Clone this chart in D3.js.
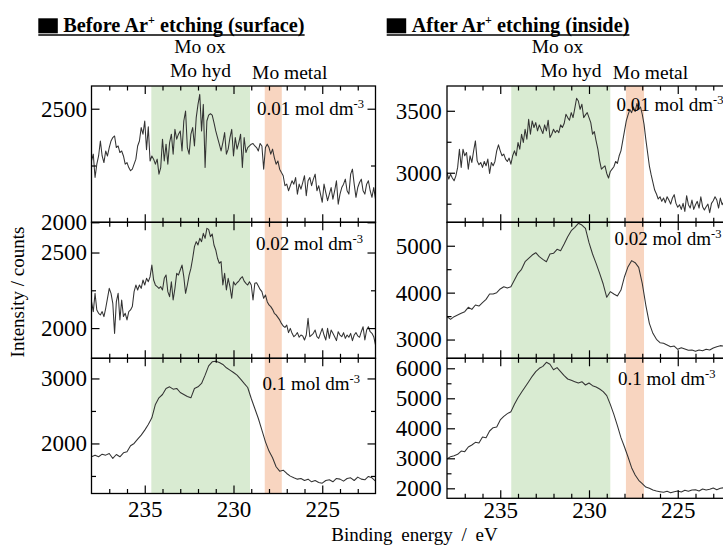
<!DOCTYPE html>
<html>
<head>
<meta charset="utf-8">
<script src="https://cdn.jsdelivr.net/npm/d3@7"></script>
<style>
  body { margin: 0; background: #fff; }
  svg { display: block; }
</style>
</head>
<body>
<svg id="chart" width="723" height="547"></svg>
<script>
// Mo 3d XPS spectra: binding energy grid (eV), high to low
const energyStart = 238, energyEnd = 222;
const fineStep = 0.1, coarseStep = 0.2;

const concentrations = ["0.01", "0.02", "0.1"];
const energyTicksMajor = [235, 230, 225];
const energyTicksMinor = [237, 236, 234, 233, 232, 231, 229, 228, 227, 226, 224, 223];

// Before Ar+ etching (surface), counts
const surface001 = [
  2270,2300,2197,2256,2292,2358,2292,2263,2314,2292,
  2329,2358,2373,2380,2329,2336,2307,2314,2292,2256,
  2263,2241,2227,2234,2256,2278,2336,2358,2417,2388,
  2446,2320,2420,2270,2292,2278,2256,2278,2212,2241,
  2366,2270,2344,2256,2351,2388,2300,2409,2366,2388,
  2402,2314,2446,2490,2329,2300,2388,2417,2336,2461,
  2519,2563,2402,2519,2241,2446,2472,2478,2472,2439,
  2402,2373,2344,2314,2351,2395,2300,2322,2373,2409,
  2292,2373,2322,2351,2388,2241,2373,2307,2329,2336,
  2344,2347,2336,2329,2314,2347,2336,2234,2329,2344,
  2329,2300,2322,2285,2256,2270,2234,2219,2205,2161,
  2168,2139,2161,2183,2168,2197,2124,2168,2146,2175,
  2205,2117,2183,2197,2161,2190,2212,2139,2161,2124,
  2088,2168,2131,2095,2124,2153,2102,2139,2183,2080,
  2124,2153,2168,2190,2139,2124,2212,2234,2168,2110,
  2153,2175,2190,2139,2124,2168,2183,2139,2110,2153,
  2102
];
const surface002 = [
  2175,2109,2230,2120,2098,2087,2109,2076,2131,2197,
  2263,2230,2164,1965,2175,2230,2054,2186,2076,2098,
  2054,2109,2120,2142,2241,2285,2252,2285,2263,2318,
  2285,2329,2307,2340,2417,2318,2285,2274,2263,2274,
  2252,2329,2351,2241,2208,2307,2186,2263,2362,2351,
  2384,2417,2340,2230,2285,2351,2395,2462,2539,2572,
  2550,2594,2572,2627,2594,2660,2653,2605,2623,2550,
  2517,2462,2429,2440,2285,2362,2252,2329,2274,2197,
  2307,2285,2300,2311,2329,2340,2311,2296,2285,2307,
  2285,2186,2296,2300,2278,2256,2241,2197,2219,2175,
  2153,2142,2124,2098,2087,2071,2054,2031,2014,2005,
  2020,1970,1998,1965,1943,1954,1970,1939,1954,1948,
  1921,1954,2065,1943,1954,1965,1987,1943,1932,1965,
  1998,1954,1921,1998,1932,1987,1965,1943,1917,1976,
  1954,1943,1970,1932,1954,1939,1965,1917,1954,1970,
  1948,1939,1976,2009,1921,1987,2009,1976,1965,1943,
  1888
];
const surface01 = [
  1795,1820,1795,1835,1820,1846,1769,1830,1795,1856,
  1871,1964,2000,2066,2128,2205,2292,2394,2600,2702,
  2753,2846,2871,2835,2846,2784,2753,2723,2702,2846,
  2871,2923,3051,3194,3256,3266,3246,3215,3164,3128,
  3092,3051,2989,2923,2861,2692,2538,2384,2205,2025,
  1882,1779,1641,1574,1589,1538,1497,1471,1451,1461,
  1430,1451,1410,1430,1400,1389,1430,1441,1410,1461,
  1451,1420,1461,1471,1430,1482,1451,1441,1492,1471,
  1420
];

// After Ar+ etching (inside), counts
const inside001 = [
  3002,2949,2989,2957,2935,2975,3043,3190,3043,3190,
  3137,3163,3029,3137,3083,3177,3257,3096,3064,3083,
  3043,3091,3056,3110,2994,3083,3056,3091,3177,3225,
  3177,3137,3150,3110,3091,3118,3069,3137,3177,3137,
  3244,3190,3311,3244,3351,3271,3432,3311,3418,3365,
  3405,3338,3386,3351,3316,3386,3338,3424,3284,3311,
  3351,3324,3343,3324,3386,3365,3397,3472,3445,3424,
  3485,3445,3520,3601,3579,3512,3553,3445,3467,3485,
  3445,3405,3311,3332,3257,3190,3096,3029,3043,3056,
  2994,2957,3010,3029,3048,3091,3075,3137,3177,3257,
  3338,3418,3467,3510,3485,3531,3494,3558,3510,3531,
  3472,3392,3271,3163,3056,2984,2922,2860,2828,2788,
  2806,2769,2796,2758,2806,2780,2747,2796,2823,2753,
  2721,2742,2704,2753,2688,2815,2742,2715,2780,2704,
  2742,2769,2715,2806,2726,2699,2726,2747,2678,2753,
  2774,2806,2780,2715,2796,2742,2769,2734,2761,2726,
  2753
];
const inside002 = [
  3488,3431,3488,3523,3559,3594,3687,3644,3736,3715,
  3786,3857,3971,3971,3999,4078,4127,4099,4127,4269,
  4411,4497,4660,4731,4802,4852,4767,4710,4660,4824,
  4838,4923,4895,5037,5193,5321,5392,5478,5442,5371,
  5065,4824,4625,4411,4184,3900,4021,3971,3928,4056,
  4340,4554,4682,4639,4539,4198,3736,3345,3132,3004,
  2933,2919,2884,2848,2862,2791,2827,2798,2770,2777,
  2748,2777,2763,2791,2777,2820,2848,2870,2862,2905,
  2884
];
const inside01 = [
  2977,3054,3088,3132,3243,3221,3377,3443,3532,3510,
  3710,3688,3910,4021,4043,4277,4399,4488,4554,4799,
  5021,5199,5377,5554,5732,5888,5999,6065,6199,6132,
  5954,6021,5888,5754,5643,5599,5554,5510,5554,5443,
  5510,5421,5377,5310,5221,5088,4799,4466,4088,3688,
  3377,3043,2688,2443,2266,2155,2043,1999,1943,1910,
  1888,1866,1899,1855,1888,1910,1877,1932,1899,1943,
  1954,1910,1977,1943,1966,2010,1954,1999,2021,1977,
  1999
];

// Intensity tick labels (major) and unlabelled minor ticks per panel
const surfaceTicks = [[2000, 2500], [2000, 2500], [2000, 3000]];
const surfaceMinor = [[2250], [2250], [1500, 2500]];
const insideTicks = [[3000, 3500], [3000, 4000, 5000], [2000, 3000, 4000, 5000, 6000]];
const insideMinor = [[2750, 3250], [3500, 4500], [2500, 3500, 4500, 5500]];

// Shaded assignment windows (eV)
const surfaceOxide = [234.63, 229.07], surfaceMetal = [228.24, 227.28];
const insideOxide = [234.38, 228.8], insideMetal = [227.92, 226.9];

const energyFine = d3.range(161).map(i => +(energyStart - i * fineStep).toFixed(2));
const energyCoarse = d3.range(81).map(i => +(energyStart - i * coarseStep).toFixed(2));

const FONT = "'Liberation Serif', 'Times New Roman', serif";
const svg = d3.select("#chart");

const plotWidth = 284;
const columns = [
  {
    x0: 91.5, bottom: 493.5, labelPad: 4.5, xLabelPad: 6.9,
    titleSq: 38.3, titleX: 63.3, titleMain: "Before Ar", titleTail: " etching (surface)",
    oxide: surfaceOxide, metal: surfaceMetal,
    series: [surface001, surface002, surface01],
    energy: [energyFine, energyFine, energyCoarse],
    domains: [[2000, 2600], [1800, 2700], [1230, 3310]],
    ticks: surfaceTicks, minor: surfaceMinor,
    labels: [[257, 115], [256, 250], [262.5, 390]],
    oxLabel: [200, 200.5], metalLabel: 289.7
  },
  {
    x0: 447, bottom: 498.3, labelPad: 5.3, xLabelPad: 3.7,
    titleSq: 386.7, titleX: 411.7, titleMain: "After Ar", titleTail: " etching (inside)",
    oxide: insideOxide, metal: insideMetal,
    series: [inside001, inside002, inside01],
    energy: [energyFine, energyCoarse, energyCoarse],
    domains: [[2600, 3700], [2600, 5500], [1667, 6333]],
    ticks: insideTicks, minor: insideMinor,
    labels: [[616.5, 111], [614.5, 245], [618, 385]],
    oxLabel: [557.5, 571], metalLabel: 650.5
  }
];
const rowEdges = [86, 222.3, 358.3];

const defs = svg.append("defs");

function styleAxis(sel, size) {
  sel.attr("font-family", FONT).attr("font-size", size);
  sel.select(".domain").remove();
  sel.selectAll(".tick line").attr("stroke", "#000").attr("stroke-width", 1.2);
  sel.selectAll(".tick text").attr("fill", "#000");
}

columns.forEach((col, ci) => {
  const x = d3.scaleLinear().domain([energyStart, energyEnd]).range([col.x0, col.x0 + plotWidth]);
  const tops = rowEdges;
  const bottoms = [rowEdges[1], rowEdges[2], col.bottom];

  // shaded windows spanning the full stack
  const bandG = svg.append("g");
  bandG.append("rect")
    .attr("x", x(col.oxide[0])).attr("width", x(col.oxide[1]) - x(col.oxide[0]))
    .attr("y", tops[0]).attr("height", col.bottom - tops[0])
    .attr("fill", "#d9ebd2");
  bandG.append("rect")
    .attr("x", x(col.metal[0])).attr("width", x(col.metal[1]) - x(col.metal[0]))
    .attr("y", tops[0]).attr("height", col.bottom - tops[0])
    .attr("fill", "#f8d5c0");

  col.series.forEach((values, ri) => {
    const top = tops[ri], bottom = bottoms[ri];
    const y = d3.scaleLinear().domain(col.domains[ri]).range([bottom, top]);
    const energy = col.energy[ri];
    const id = `clip-${ci}-${ri}`;
    defs.append("clipPath").attr("id", id).append("rect")
      .attr("x", col.x0).attr("y", top).attr("width", plotWidth).attr("height", bottom - top);

    const line = d3.line().x((d, i) => x(energy[i])).y(d => y(d));
    svg.append("path").datum(values)
      .attr("clip-path", `url(#${id})`)
      .attr("d", line)
      .attr("fill", "none").attr("stroke", "#333").attr("stroke-width", 1.05)
      .attr("stroke-linejoin", "round");

    // intensity axes (ticks inward)
    svg.append("g").attr("transform", `translate(${col.x0},0)`)
      .call(d3.axisLeft(y).tickValues(col.ticks[ri]).tickSize(-8).tickPadding(col.labelPad).tickFormat(d3.format("d")))
      .call(s => styleAxis(s, 23));
    svg.append("g").attr("transform", `translate(${col.x0},0)`)
      .call(d3.axisLeft(y).tickValues(col.minor[ri]).tickSize(-4.5).tickFormat(""))
      .call(s => styleAxis(s, 23));
    svg.append("g").attr("transform", `translate(${col.x0 + plotWidth},0)`)
      .call(d3.axisRight(y).tickValues(col.ticks[ri]).tickSize(-8).tickFormat(""))
      .call(s => styleAxis(s, 23));
    svg.append("g").attr("transform", `translate(${col.x0 + plotWidth},0)`)
      .call(d3.axisRight(y).tickValues(col.minor[ri]).tickSize(-4.5).tickFormat(""))
      .call(s => styleAxis(s, 23));

    // energy ticks on top and bottom edges
    svg.append("g").attr("transform", `translate(0,${top})`)
      .call(d3.axisTop(x).tickValues(energyTicksMajor).tickSize(-8).tickFormat(""))
      .call(s => styleAxis(s, 23));
    svg.append("g").attr("transform", `translate(0,${top})`)
      .call(d3.axisTop(x).tickValues(energyTicksMinor).tickSize(-4.5).tickFormat(""))
      .call(s => styleAxis(s, 23));
    const isLast = ri === col.series.length - 1;
    svg.append("g").attr("transform", `translate(0,${bottom})`)
      .call(d3.axisBottom(x).tickValues(energyTicksMajor).tickSize(-8)
        .tickPadding(col.xLabelPad).tickFormat(isLast ? d3.format("d") : ""))
      .call(s => styleAxis(s, 23));
    svg.append("g").attr("transform", `translate(0,${bottom})`)
      .call(d3.axisBottom(x).tickValues(energyTicksMinor).tickSize(-4.5).tickFormat(""))
      .call(s => styleAxis(s, 23));

    // frame
    svg.append("rect")
      .attr("x", col.x0).attr("y", top).attr("width", plotWidth).attr("height", bottom - top)
      .attr("fill", "none").attr("stroke", "#000").attr("stroke-width", 1.3);

    // concentration label
    const [lx, ly] = col.labels[ri];
    const t = svg.append("text").attr("x", lx).attr("y", ly)
      .attr("font-family", FONT).attr("font-size", 19).attr("fill", "#000");
    t.append("tspan").text(`${concentrations[ri]} mol dm`);
    t.append("tspan").attr("font-size", 12.5).attr("dy", -7.5).text("-3");
  });

  // region labels
  const lab = (tx, ty, s) => svg.append("text").attr("x", tx).attr("y", ty)
    .attr("text-anchor", "middle").attr("font-family", FONT).attr("font-size", 19.5)
    .attr("fill", "#000").text(s);
  lab(col.oxLabel[0], 53, "Mo ox");
  lab(col.oxLabel[1], 77, "Mo hyd");
  lab(col.metalLabel, 78.5, "Mo metal");

  // column heading
  svg.append("rect").attr("x", col.titleSq).attr("y", 18.3).attr("width", 19.5).attr("height", 15).attr("fill", "#000");
  const ht = svg.append("text").attr("x", col.titleX).attr("y", 32)
    .attr("font-family", FONT).attr("font-size", 20.3).attr("font-weight", "bold").attr("fill", "#000");
  ht.append("tspan").text(col.titleMain);
  ht.append("tspan").attr("font-size", 12).attr("dy", -8).text("+");
  ht.append("tspan").attr("font-size", 20.3).attr("dy", 8).text(col.titleTail);
  const endX = col.titleX + ht.node().getComputedTextLength();
  svg.append("line").attr("x1", col.titleSq).attr("x2", endX)
    .attr("y1", 35).attr("y2", 35).attr("stroke", "#000").attr("stroke-width", 1.6);
});

// axis titles
svg.append("text")
  .attr("transform", "translate(24,292) rotate(-90)")
  .attr("text-anchor", "middle").attr("font-family", FONT).attr("font-size", 19)
  .attr("fill", "#000").text("Intensity / counts");
svg.append("text")
  .attr("x", 414.5).attr("y", 541)
  .attr("text-anchor", "middle").attr("font-family", FONT).attr("font-size", 19)
  .attr("word-spacing", 4)
  .attr("fill", "#000").text("Binding energy / eV");
</script>
</body>
</html>
